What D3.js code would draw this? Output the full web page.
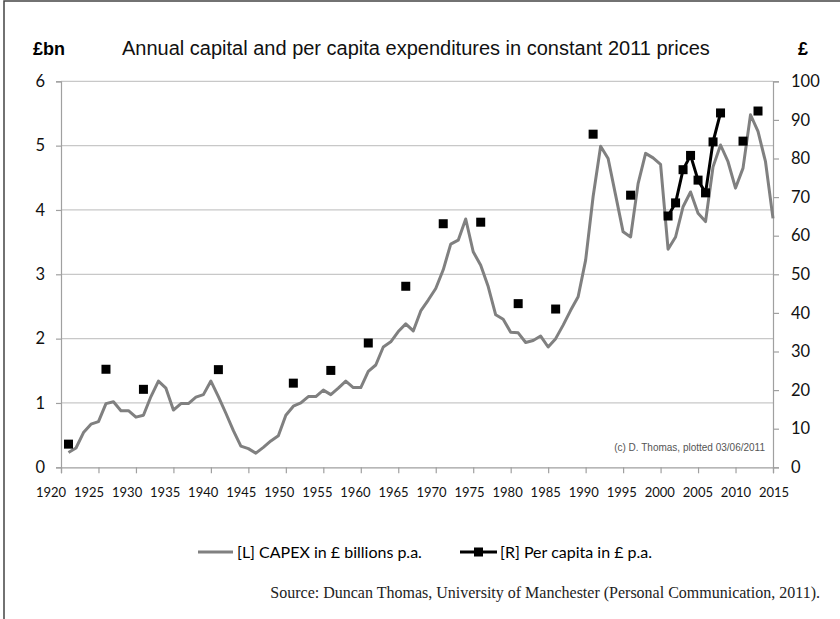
<!DOCTYPE html>
<html>
<head>
<meta charset="utf-8">
<script src="https://cdn.jsdelivr.net/npm/d3@7/dist/d3.min.js"></script>
<style>
  body { margin: 0; background: #fff; }
  svg { display: block; }
</style>
</head>
<body>
<div id="chart"></div>
<script>
// CAPEX, £ billions (left axis), one value per year 1921..2015
var capexYears = [1921,1922,1923,1924,1925,1926,1927,1928,1929,1930,
  1931,1932,1933,1934,1935,1936,1937,1938,1939,1940,
  1941,1942,1943,1944,1945,1946,1947,1948,1949,1950,
  1951,1952,1953,1954,1955,1956,1957,1958,1959,1960,
  1961,1962,1963,1964,1965,1966,1967,1968,1969,1970,
  1971,1972,1973,1974,1975,1976,1977,1978,1979,1980,
  1981,1982,1983,1984,1985,1986,1987,1988,1989,1990,
  1991,1992,1993,1994,1995,1996,1997,1998,1999,2000,
  2001,2002,2003,2004,2005,2006,2007,2008,2009,2010,
  2011,2012,2013,2014,2015];
var capexValues = [0.23,0.30,0.54,0.67,0.71,0.99,1.02,0.88,0.88,0.78,
  0.81,1.10,1.34,1.23,0.89,0.99,0.99,1.09,1.13,1.34,
  1.10,0.84,0.57,0.33,0.29,0.22,0.31,0.41,0.49,0.81,
  0.95,1.00,1.10,1.10,1.20,1.13,1.23,1.34,1.24,1.24,
  1.49,1.59,1.87,1.95,2.11,2.23,2.12,2.43,2.60,2.78,
  3.07,3.47,3.53,3.86,3.35,3.14,2.81,2.37,2.30,2.10,
  2.09,1.94,1.97,2.04,1.87,2.00,2.21,2.44,2.65,3.22,
  4.21,4.99,4.80,4.23,3.66,3.58,4.41,4.88,4.81,4.71,
  3.39,3.58,4.05,4.28,3.95,3.82,4.67,5.01,4.75,4.34,
  4.65,5.48,5.22,4.75,3.87];

// per capita, £ (right axis)
var perCapitaYears  = [1921,1926,1931,1941,1951,1956,1961,1966,1971,1976,1981,1986,1991,1996,
  2001,2002,2003,2004,2005,2006,2007,2008,2011,2013];
var perCapitaValues = [6.0,25.4,20.2,25.3,21.8,25.1,32.2,46.9,63.1,63.5,42.4,41.0,86.3,70.5,
  65.1,68.5,77.1,80.8,74.4,71.1,84.3,91.8,84.5,92.3];

var leftTicks = [0,1,2,3,4,5,6];
var rightTicks = [0,10,20,30,40,50,60,70,80,90,100];
var xTickYears = [1920,1925,1930,1935,1940,1945,1950,1955,1960,1965,1970,1975,1980,1985,1990,1995,2000,2005,2010,2015];

var title = "Annual capital and per capita expenditures in constant 2011 prices";
var legendLabels = ["[L] CAPEX in £ billions p.a.", "[R] Per capita in £ p.a."];
var sourceText = "Source: Duncan Thomas, University of Manchester (Personal Communication, 2011).";
var creditText = "(c) D. Thomas, plotted 03/06/2011";

var width = 840, height = 619;
var plot = {left: 61, right: 773, top: 81.3, bottom: 467.3};

var svg = d3.select("#chart").append("svg")
    .attr("width", width)
    .attr("height", height);

// outer frame (only left and top edges are visible in the picture)
svg.append("rect")
    .attr("x", 4).attr("y", 1)
    .attr("width", 900).attr("height", 700)
    .attr("fill", "none")
    .attr("stroke", "#444")
    .attr("stroke-width", 1.5);

var x = d3.scaleLinear().domain([1920, 2015]).range([plot.left, plot.right]);
var yL = d3.scaleLinear().domain([0, 6]).range([plot.bottom, plot.top]);
var yR = d3.scaleLinear().domain([0, 100]).range([plot.bottom, plot.top]);
// the year labels are a typed text row, not quite on the ticks
var xLab = d3.scalePoint().domain(xTickYears).range([51, 774]);

// gridlines
svg.append("g").selectAll("line")
    .data(leftTicks.slice(1))
    .enter().append("line")
      .attr("x1", plot.left).attr("x2", plot.right)
      .attr("y1", function(d) { return yL(d); })
      .attr("y2", function(d) { return yL(d); })
      .attr("stroke", "#c8c8c8")
      .attr("stroke-width", 1.2);

var gL = svg.append("g")
    .attr("transform", "translate(" + plot.left + ",0)")
    .call(d3.axisLeft(yL).tickValues(leftTicks).tickSize(5).tickPadding(11).tickFormat(d3.format("d")));
var gR = svg.append("g")
    .attr("transform", "translate(" + plot.right + ",0)")
    .call(d3.axisRight(yR).tickValues(rightTicks).tickSize(6).tickPadding(12).tickFormat(d3.format("d")));
var gB = svg.append("g")
    .attr("transform", "translate(0," + plot.bottom + ")")
    .call(d3.axisBottom(x).tickValues(xTickYears).tickSize(6).tickFormat(""));

[gL, gR, gB].forEach(function(g) {
  g.select(".domain").attr("stroke", "#a0a0a0").attr("stroke-width", 1.2);
  g.selectAll(".tick line").attr("stroke", "#a0a0a0").attr("stroke-width", 1.2);
  g.selectAll("text")
      .attr("fill", "#111")
      .style("font-family", "Lato, 'Open Sans', sans-serif")
      .style("font-size", "16.5px");
});

svg.append("g").selectAll("text")
    .data(xTickYears)
    .enter().append("text")
      .attr("x", function(d) { return xLab(d); })
      .attr("y", 497)
      .attr("text-anchor", "middle")
      .style("font-family", "Lato, 'Open Sans', sans-serif")
      .style("font-size", "13px")
      .attr("fill", "#111")
      .text(function(d) { return d; });

// CAPEX line
var capex = capexYears.map(function(yr, i) { return {year: yr, value: capexValues[i]}; });
svg.append("path")
    .datum(capex)
    .attr("fill", "none")
    .attr("stroke", "#808080")
    .attr("stroke-width", 3)
    .attr("stroke-linejoin", "round")
    .attr("d", d3.line()
        .x(function(d) { return x(d.year); })
        .y(function(d) { return yL(d.value); }));

// per capita: only consecutive years are joined
var pc = perCapitaYears.map(function(yr, i) { return {year: yr, value: perCapitaValues[i]}; });
var segments = [];
pc.forEach(function(d, i) {
  if (i > 0 && d.year - pc[i - 1].year === 1) segments[segments.length - 1].push(d);
  else segments.push([d]);
});
svg.append("g").selectAll("path")
    .data(segments.filter(function(s) { return s.length > 1; }))
    .enter().append("path")
      .attr("fill", "none")
      .attr("stroke", "#000")
      .attr("stroke-width", 3)
      .attr("d", d3.line()
          .x(function(d) { return x(d.year); })
          .y(function(d) { return yR(d.value); }));
svg.append("g").selectAll("rect")
    .data(pc)
    .enter().append("rect")
      .attr("x", function(d) { return x(d.year) - 4.5; })
      .attr("y", function(d) { return yR(d.value) - 4.5; })
      .attr("width", 9).attr("height", 9)
      .attr("fill", "#000");

// unit labels and title
svg.append("text")
    .attr("x", 33).attr("y", 55)
    .style("font-family", "'Liberation Sans', Arial, sans-serif")
    .style("font-size", "18px").style("font-weight", "bold")
    .text("£bn");
svg.append("text")
    .attr("x", 798).attr("y", 55)
    .style("font-family", "'Liberation Sans', Arial, sans-serif")
    .style("font-size", "18px").style("font-weight", "bold")
    .text("£");
svg.append("text")
    .attr("x", 122).attr("y", 55)
    .style("font-family", "'Liberation Sans', Arial, sans-serif")
    .style("font-size", "20px")
    .attr("fill", "#111")
    .text(title);

svg.append("text")
    .attr("x", 765).attr("y", 451)
    .attr("text-anchor", "end")
    .style("font-family", "'Liberation Sans', Arial, sans-serif")
    .style("font-size", "10px")
    .attr("fill", "#555")
    .text(creditText);

// legend
var legend = svg.append("g").attr("transform", "translate(0,552)");
legend.append("line")
    .attr("x1", 198).attr("x2", 233).attr("y1", 0).attr("y2", 0)
    .attr("stroke", "#808080").attr("stroke-width", 3);
legend.append("text")
    .attr("x", 237).attr("y", 5.5)
    .style("font-family", "Lato, 'Open Sans', sans-serif")
    .style("font-size", "16px")
    .text(legendLabels[0]);
legend.append("line")
    .attr("x1", 460).attr("x2", 497).attr("y1", 0).attr("y2", 0)
    .attr("stroke", "#000").attr("stroke-width", 3);
legend.append("rect")
    .attr("x", 474).attr("y", -4.5).attr("width", 9).attr("height", 9)
    .attr("fill", "#000");
legend.append("text")
    .attr("x", 500).attr("y", 5.5)
    .style("font-family", "Lato, 'Open Sans', sans-serif")
    .style("font-size", "16px")
    .text(legendLabels[1]);

svg.append("text")
    .attr("x", 820).attr("y", 598)
    .attr("text-anchor", "end")
    .style("font-family", "'Liberation Serif', 'Times New Roman', serif")
    .style("font-size", "16px")
    .attr("fill", "#222")
    .text(sourceText);
</script>
</body>
</html>
